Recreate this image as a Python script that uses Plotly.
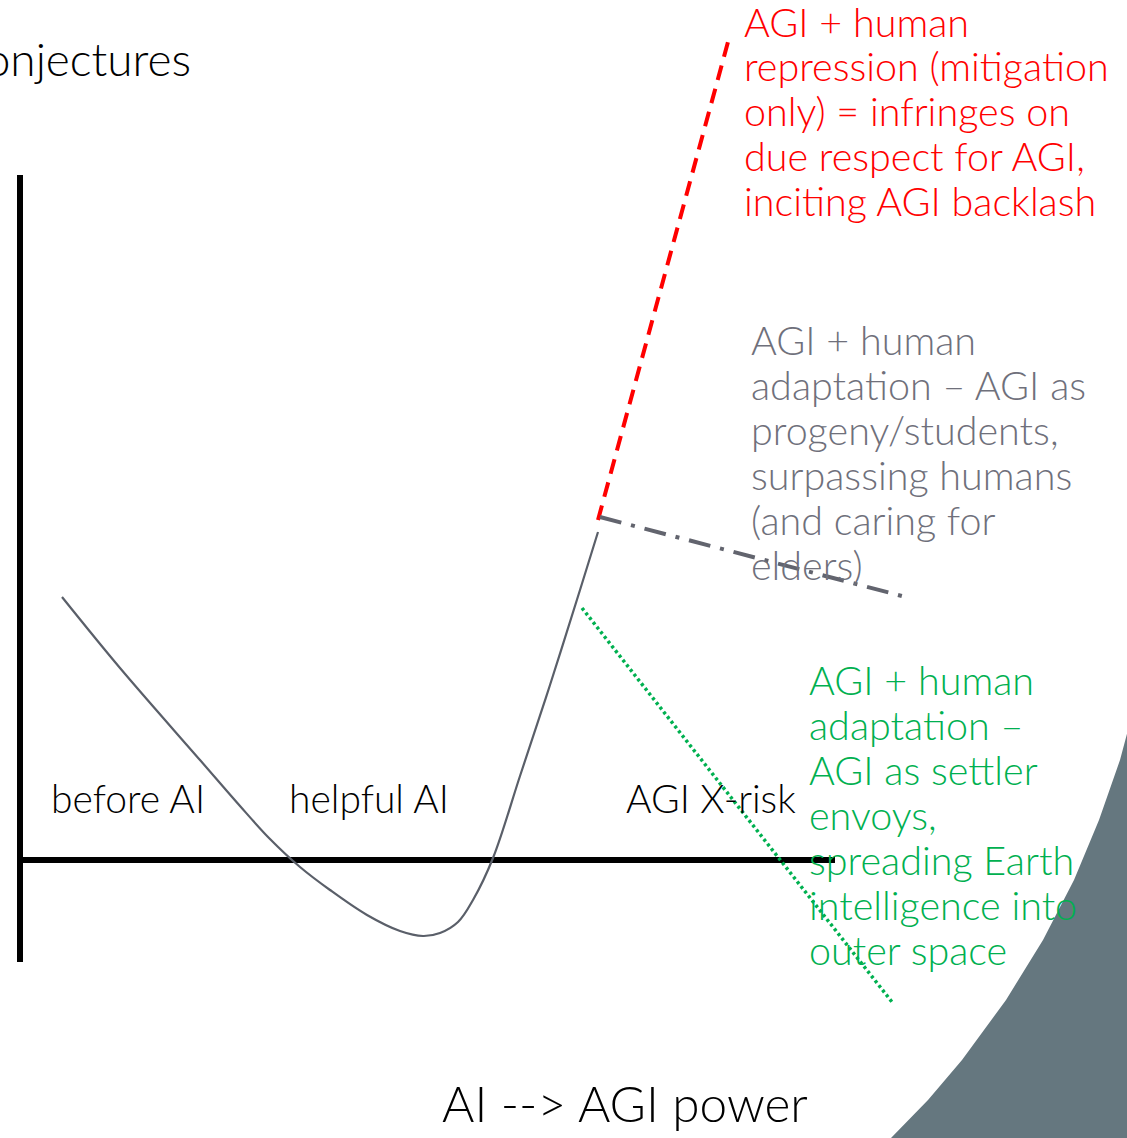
import plotly.graph_objects as go

# Conceptual sketch coordinates (origin where the two axes cross, y upward)
curve_x = [42, 100, 180, 220, 250, 280, 310, 347, 380, 403, 420, 438, 453, 473, 500, 530, 560, 578]
curve_y = [263, 192, 100, 54, 21, -7, -30, -55, -71, -76, -73, -62, -40, 2, 84, 175, 270, 328]

repression_x = [578, 708]
repression_y = [340, 818]
progeny_x = [580, 882]
progeny_y = [343, 264]
settler_x = [562, 872]
settler_y = [252, -142]

vaxis_x = [0, 0]
vaxis_y = [-102, 685]
haxis_x = [0, 815]
haxis_y = [0, 0]

# dark backdrop region (bottom-right), edge
bg_x = [1116, 1100, 1079, 1054, 1023, 986, 942, 908, 871, 848, 1130, 1130]
bg_y = [160, 100, 40, -20, -80, -140, -200, -240, -278, -300, -300, 160]

red_lines = ["AGI + human", "repression (mitigation", "only) = infringes on",
             "due respect for AGI,", "inciting AGI backlash"]
red_y = [839, 795, 750, 705, 660]
gray_lines = ["AGI + human", "adaptation \u2013 AGI as", "progeny/students,",
              "surpassing humans", "(and caring for", "elders)"]
gray_y = [521, 476, 431, 386, 341, 296]
green_lines = ["AGI + human", "adaptation \u2013", "AGI as settler", "envoys,",
               "spreading Earth", "intelligence into", "outer space"]
green_y = [181, 136, 91, 46, 1, -44, -89]

stage_labels = ["before AI", "helpful AI", "AGI X-risk"]
stage_x = [29, 267, 604]
stage_y = [62, 62, 62]

FONT = "Lato"
RED = "#ff0000"
GRAY_TXT = "#6f707b"
GREEN = "#00b050"
FS = 39.5

fig = go.Figure()
fig.add_trace(go.Scatter(x=bg_x, y=bg_y, fill="toself", fillcolor="#65777f",
                         mode="lines", line=dict(width=0, color="#65777f"),
                         hoverinfo="skip"))
fig.add_trace(go.Scatter(x=vaxis_x, y=vaxis_y, mode="lines",
                         line=dict(color="black", width=6)))
fig.add_trace(go.Scatter(x=haxis_x, y=haxis_y, mode="lines",
                         line=dict(color="black", width=6)))
fig.add_trace(go.Scatter(x=curve_x, y=curve_y, mode="lines", line_shape="spline",
                         line=dict(color="#5a5f69", width=2.2, smoothing=1.0)))
fig.add_trace(go.Scatter(x=repression_x, y=repression_y, mode="lines",
                         line=dict(color=RED, width=4, dash="15px,9px")))
fig.add_trace(go.Scatter(x=progeny_x, y=progeny_y, mode="lines",
                         line=dict(color="#62646e", width=4, dash="22px,10px,4px,10px")))
fig.add_trace(go.Scatter(x=settler_x, y=settler_y, mode="lines",
                         line=dict(color=GREEN, width=3.5, dash="3px,3px")))

ann = []
def add_lines(lines, ys, x, color):
    for t, y in zip(lines, ys):
        ann.append(dict(x=x, y=y, text=t, showarrow=False, xanchor="left",
                        yanchor="middle",
                        font=dict(family=FONT, size=FS, color=color, weight=300)))

add_lines(red_lines, red_y, 722, RED)
add_lines(gray_lines, gray_y, 729, GRAY_TXT)
add_lines(green_lines, green_y, 787, GREEN)
for t, x, y in zip(stage_labels, stage_x, stage_y):
    ann.append(dict(x=x, y=y, text=t, showarrow=False, xanchor="left", yanchor="middle",
                    font=dict(family=FONT, size=FS - 0.5, color="black", weight=300)))
ann.append(dict(x=605, y=-243, text="AI --> AGI power", showarrow=False,
                xanchor="center", yanchor="middle",
                font=dict(family=FONT, size=49.5, color="black", weight=300)))
ann.append(dict(x=173, y=802, text="Conjectures", showarrow=False,
                xanchor="right", yanchor="middle",
                font=dict(family=FONT, size=46, color="black", weight=300)))

fig.update_layout(
    width=1127, height=1138, margin=dict(l=0, r=0, t=0, b=0),
    paper_bgcolor="white", plot_bgcolor="white", showlegend=False,
    annotations=ann,
    xaxis=dict(range=[-20, 1107], visible=False, fixedrange=True),
    yaxis=dict(range=[-278, 860], visible=False, fixedrange=True),
)
fig.write_html("out.html", config={"displayModeBar": False},
               post_script="document.body.style.margin='0';document.body.style.overflow='hidden';")
